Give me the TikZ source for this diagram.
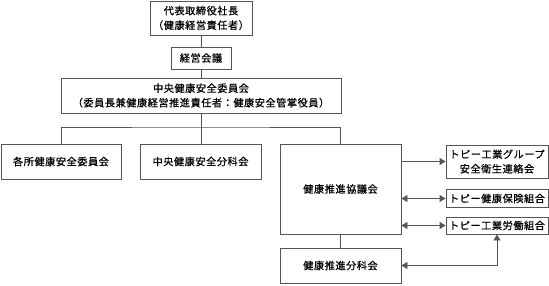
\documentclass[tikz,border=0pt]{standalone}
\usepackage{fontspec}
\setmainfont{Noto Sans CJK JP}[LetterSpace=5, FakeBold=0.6]
\usetikzlibrary{arrows.meta}
\definecolor{lc}{HTML}{555555}
\begin{document}
\begin{tikzpicture}[x=1pt,y=-1pt,
  box/.style={draw=lc, line width=0.9pt, fill=white, inner sep=0pt, align=center,
    font=\fontsize{10.2}{14.5}\selectfont, text=black},
  conn/.style={draw=lc, line width=0.9pt},
  tri/.tip={Triangle[length=6pt,width=7pt,color=lc]},
]
\useasboundingbox (0,0) rectangle (549,285);
\node[box, minimum width=102pt, minimum height=34pt] (ceo) at (201,18) {代表取締役社長\\（健康経営責任者）};
\node[box, minimum width=60pt, minimum height=22pt] (kei) at (201,58) {経営会議};
\node[box, minimum width=280pt, minimum height=35pt] (chuo) at (201,95.5) {中央健康安全委員会\\（委員長兼健康経営推進責任者：健康安全管掌役員）};
\node[box, minimum width=120pt, minimum height=35pt] (kaku) at (61,161.5) {各所健康安全委員会};
\node[box, minimum width=121pt, minimum height=35pt] (bunc) at (200.5,161.5) {中央健康安全分科会};
\node[box, minimum width=121pt, minimum height=90pt] (kyo) at (340.5,189) {健康推進協議会};
\node[box, minimum width=121pt, minimum height=35pt] (kbun) at (340.5,265.5) {健康推進分科会};
\node[box, minimum width=102pt, minimum height=33pt] (r1) at (497,161.5) {トピー工業グループ\\安全衛生連絡会};
\node[box, minimum width=102pt, minimum height=18pt] (r2) at (497,198.5) {トピー健康保険組合};
\node[box, minimum width=102pt, minimum height=17pt] (r3) at (497,225.5) {トピー工業労働組合};
\coordinate (j) at (201,127);
\draw[conn] (ceo) -- (kei);
\draw[conn] (kei) -- (chuo);
\draw[conn] (chuo.south) -- (j);
\draw[conn] (kaku.north) |- (j) -| (kyo.north);
\draw[conn] (j) -- (j |- bunc.north);
\draw[conn] (kyo) -- (kbun);
\draw[conn, -tri] (kyo.east |- r1) -- (r1.west);
\draw[conn, tri-tri] (kyo.east |- r2) -- (r2.west);
\draw[conn, tri-tri] (kyo.east |- r3) -- (r3.west);
\draw[conn, tri-tri] (r3.south) |- (kbun.east);
\end{tikzpicture}
\end{document}
